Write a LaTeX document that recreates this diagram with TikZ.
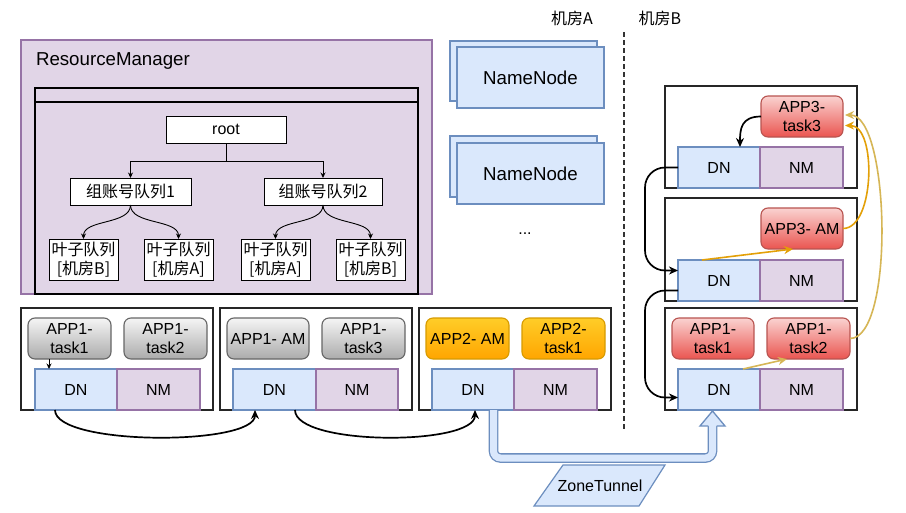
\documentclass[tikz,border=0pt]{standalone}
\usepackage{fontspec}
\setmainfont{Liberation Sans}
\newfontfamily\cjk{Noto Sans CJK SC}
\usetikzlibrary{arrows.meta,calc}
\definecolor{dnfill}{HTML}{DAE8FC}
\definecolor{dnline}{HTML}{6C8EBF}
\definecolor{nmfill}{HTML}{E1D5E7}
\definecolor{nmline}{HTML}{9673A6}
\definecolor{gtop}{HTML}{F5F5F5}
\definecolor{gbot}{HTML}{ABABAB}
\definecolor{gline}{HTML}{666666}
\definecolor{otop}{HTML}{FFCD28}
\definecolor{obot}{HTML}{FFA500}
\definecolor{oline}{HTML}{D79B00}
\definecolor{rtop}{HTML}{FAD2D0}
\definecolor{rbot}{HTML}{EA5550}
\definecolor{rline}{HTML}{B85450}
\definecolor{orarr}{HTML}{E3A008}
\definecolor{yearr}{HTML}{D6B656}
\newcommand\mybox[7]{\node[#1,minimum width={#4-#2},minimum height={#5-#3}] (#6) at ({(#2+#4)/2},{(#3+#5)/2}) {#7};}
\tikzset{
  rmbox/.style={draw=nmline,fill=nmfill,line width=1.3pt},
  pool/.style={draw=black,line width=1.4pt},
  tbox/.style={draw=black,fill=white,line width=1pt},
  cj/.style={font=\fontsize{16}{19}\selectfont\cjk},
  host/.style={draw=black!85,fill=white,line width=1.5pt},
  dn/.style={draw=dnline,fill=dnfill,line width=1.2pt},
  nm/.style={draw=nmline,fill=nmfill,line width=1.2pt},
  gapp/.style={rounded corners=7pt,draw=gline,top color=gtop,bottom color=gbot,line width=1.1pt},
  oapp/.style={rounded corners=7pt,draw=oline,top color=otop,bottom color=obot,line width=1.1pt},
  rapp/.style={rounded corners=7pt,draw=rline,top color=rtop,bottom color=rbot,line width=1.1pt},
  nn/.style={draw=dnline,fill=dnfill,line width=1.2pt,font=\fontsize{18.7}{22}\selectfont},
  blk/.style={draw=black,line width=1.7pt,-{Stealth[length=9pt,width=8pt]}},
  tarr/.style={draw=black,line width=0.9pt,-{Stealth[length=5.5pt,width=5pt]}},
  oarr/.style={draw=orarr,line width=1.6pt,-{Stealth[length=9pt,width=8pt]}},
  yarr/.style={draw=yearr,line width=1.6pt,-{Stealth[length=9pt,width=8pt]}},
}
\begin{document}
\begin{tikzpicture}[x=1pt,y=-1pt,every node/.append style={inner sep=0pt,outer sep=0pt,align=center,font=\fontsize{16}{19}\selectfont}]
\useasboundingbox (0,0) rectangle (906,512);
\fill[white] (0,0) rectangle (906,512);

% ResourceManager
\mybox{rmbox}{21}{40}{432}{294}{rm}{}
\node[anchor=west,font=\fontsize{18.7}{22}\selectfont] (rmt) at (36,61) {ResourceManager};
\mybox{pool}{35}{88}{418}{294}{pool}{}
\draw[line width=1.4pt] ([yshift=-14pt]pool.north west) -- ([yshift=-14pt]pool.north east);
\mybox{tbox}{166}{116}{286}{143}{root}{root}
\mybox{tbox,cj}{70}{178}{191}{205}{g1}{组账号队列1}
\mybox{tbox,cj}{264}{178}{382}{205}{g2}{组账号队列2}
\mybox{tbox,cj}{49}{239}{118}{280}{l1}{叶子队列\\{}[机房B]}
\mybox{tbox,cj}{144}{239}{213}{280}{l2}{叶子队列\\{}[机房A]}
\mybox{tbox,cj}{241}{239}{310}{280}{l3}{叶子队列\\{}[机房A]}
\mybox{tbox,cj}{336}{239}{405}{280}{l4}{叶子队列\\{}[机房B]}
\draw[tarr] (root.south) -- ++(0,18) -| (g1.north);
\draw[tarr] (root.south) -- ++(0,18) -| (g2.north);
\draw[tarr] (g1.south) .. controls +(0,20) and +(0,-20) .. (l1.north);
\draw[tarr] (g1.south) .. controls +(0,20) and +(0,-20) .. (l2.north);
\draw[tarr] (g2.south) .. controls +(0,20) and +(0,-20) .. (l3.north);
\draw[tarr] (g2.south) .. controls +(0,20) and +(0,-20) .. (l4.north);

% NameNodes
\mybox{nn}{450}{41}{597}{101}{nn1b}{}
\mybox{nn}{457}{47}{604}{108}{nn1}{NameNode}
\mybox{nn}{450}{136}{597}{197}{nn2b}{}
\mybox{nn}{457}{143}{604}{204}{nn2}{NameNode}
\node (dots) at (525,234) {...};

% zone labels and divider
\node[cj] (ja) at (572,18) {机房A};
\node[cj] (jb) at (660,18) {机房B};
\draw[draw=black!80,line width=1.8pt,dash pattern=on 5pt off 3pt] (624,32) -- (624,430);

% hosts zone A
\mybox{host}{21}{308}{213}{410}{h1}{}
\mybox{gapp}{28}{318}{111}{359}{t11}{APP1-\\task1}
\mybox{gapp}{124}{318}{207}{359}{t12}{APP1-\\task2}
\mybox{dn}{35}{369}{117}{410}{dn1}{DN}
\mybox{nm}{117}{369}{200}{410}{nm1}{NM}

\mybox{host}{220}{308}{412}{410}{h2}{}
\mybox{gapp}{227}{318}{309}{359}{am1}{APP1- AM}
\mybox{gapp}{322}{318}{405}{359}{t13}{APP1-\\task3}
\mybox{dn}{233}{369}{316}{410}{dn2}{DN}
\mybox{nm}{316}{369}{398}{410}{nm2}{NM}

\mybox{host}{419}{308}{611}{410}{h3}{}
\mybox{oapp}{426}{318}{509}{359}{am2}{APP2- AM}
\mybox{oapp}{522}{318}{605}{359}{t21}{APP2-\\task1}
\mybox{dn}{432}{369}{514}{410}{dn3}{DN}
\mybox{nm}{514}{369}{597}{410}{nm3}{NM}

% hosts zone B
\mybox{host}{665}{86}{857}{188}{hr1}{}
\mybox{rapp}{761}{96}{843}{137}{t33}{APP3-\\task3}
\mybox{dn}{678}{147}{760}{188}{dnr1}{DN}
\mybox{nm}{760}{147}{843}{188}{nmr1}{NM}

\mybox{host}{665}{198}{857}{301}{hr2}{}
\mybox{rapp}{761}{208}{843}{249}{am3}{APP3- AM}
\mybox{dn}{678}{260}{760}{301}{dnr2}{DN}
\mybox{nm}{760}{260}{843}{301}{nmr2}{NM}

\mybox{host}{665}{308}{857}{410}{hr3}{}
\mybox{rapp}{672}{318}{754}{359}{t1b}{APP1-\\task1}
\mybox{rapp}{767}{318}{850}{359}{t2b}{APP1-\\task2}
\mybox{dn}{678}{369}{760}{410}{dnr3}{DN}
\mybox{nm}{760}{369}{843}{410}{nmr3}{NM}

% connectors zone A
\draw[tarr] ($(t11.south west)+(21,0)$) -- ($(dn1.north west)+(14,0)$);
\draw[blk] ($(dn1.south west)+(20,0)$) .. controls +(0,36) and +(0,36) .. ($(dn2.south west)+(22,0)$);
\draw[blk] ($(dn2.south west)+(62,0)$) .. controls +(0,36) and +(0,36) .. ($(dn3.south west)+(43,0)$);

% connectors zone B
\draw[blk] (t33.west) .. controls +(-20,0) and +(0,-18) .. ($(dnr1.north west)+(62,0)$);
\draw[blk,rounded corners=20pt] (dnr1.west) -- ++(-33,0) |- ($(dnr2.west)+(0,-10)$);
\draw[blk,rounded corners=20pt] ($(dnr2.west)+(0,10)$) -- ++(-33,0) |- ($(dnr3.west)+(0,8)$);
\draw[oarr] ($(dnr2.north west)+(24,0)$) -- ($(am3.south)+(-9,0)$);
\draw[oarr] (am3.east) .. controls +(32,0) and +(32,0) .. ($(t33.east)+(2,9)$);
\draw[yarr] ($(dnr3.north west)+(65,0)$) -- ($(t2b.south)+(-21.5,0)$);
\draw[yarr] (t2b.east) .. controls +(45,0) and +(45,0) .. ($(t33.east)+(2,-1.5)$);

% ZoneTunnel
\coordinate (zta) at ($(dn3.south west)+(61.5,0)$);
\coordinate (ztb) at ($(dnr3.south west)+(34.5,16)$);
\draw[draw=dnline,double=dnfill,double distance=7pt,line width=1.3pt,rounded corners=7pt] (zta) -- ++(0,48) -| (ztb);
\fill[dnfill] ($(ztb)+(-12.5,0)$) -- ($(ztb)+(0,-15)$) -- ($(ztb)+(12.5,0)$) -- cycle;
\draw[draw=dnline,line width=1.3pt,line join=miter] ($(ztb)+(-4.1,0)$) -- ($(ztb)+(-12.5,0)$) -- ($(ztb)+(0,-15)$) -- ($(ztb)+(12.5,0)$) -- ($(ztb)+(4.1,0)$);
\draw[draw=dnline,fill=dnfill,line width=1.2pt] (563,465) -- (665,465) -- (639,506) -- (534,506) -- cycle;
\node (ztl) at (600,486) {ZoneTunnel};
\end{tikzpicture}
\end{document}
